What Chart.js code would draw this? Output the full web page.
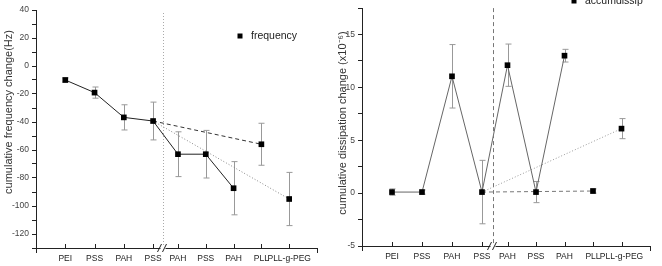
<!DOCTYPE html>
<html><head><meta charset="utf-8">
<script src="https://cdn.jsdelivr.net/npm/chart.js@4/dist/chart.umd.min.js"></script>
<style>
html,body{margin:0;padding:0;background:#fff;}
#wrap{position:relative;width:662px;height:266px;}
.c{position:absolute;top:0;width:331px;height:266px;}
</style></head><body>
<div id="wrap">
<div class="c" style="left:0"><canvas id="c1"></canvas></div>
<div class="c" style="left:331px"><canvas id="c2"></canvas></div>
</div>
<script>
// ---- data ----
const categories = ['PEI','PSS','PAH','PSS','PAH','PSS','PAH','PLL','PLL-g-PEG'];
const categoryX = [1, 2, 3, 4, 4.85, 5.8, 6.75, 7.7, 8.65];
const breakX = 4.35;
const freqValues = [-10, -19, -36.7, -39.3, -63, -63, -87.3, -55.9, -95];
const freqErrors = [1.5, 4, 9, 13.5, 16, 17, 19, 15, 19];
const dissipValues = [0.1, 0.1, 11.05, 0.1, 12.1, 0.1, 13.0, 0.2, 6.1];
const dissipErrors = [0.3, 0.2, 3, 3, 2, 1, 0.6, 0.2, 0.95];
const freqTickLabels = [-120, -100, -80, -60, -40, -20, 0, 20, 40];
const dissipTickLabels = [-5, 0, 5, 10, 15];
const mainIdx = [0, 1, 2, 3, 4, 5, 6];
const dashIdx = [3, 7];
const dotIdx = [3, 8];

const FONT = "'Liberation Sans', Arial, sans-serif";

function pts(values, idx) { return idx.map(i => ({x: categoryX[i], y: values[i]})); }

const errorBars = {
  id: 'errorBars',
  beforeDatasetsDraw(chart, args, o) {
    const {ctx, scales: {x, y}} = chart;
    ctx.save();
    ctx.strokeStyle = o.color; ctx.lineWidth = 1;
    o.values.forEach((v, i) => {
      const px = Math.round(x.getPixelForValue(categoryX[i])) + 0.5;
      const t = y.getPixelForValue(v + o.errors[i]);
      const b = y.getPixelForValue(v - o.errors[i]);
      ctx.beginPath();
      ctx.moveTo(px, t); ctx.lineTo(px, b);
      ctx.moveTo(px - 3, t); ctx.lineTo(px + 3, t);
      ctx.moveTo(px - 3, b); ctx.lineTo(px + 3, b);
      ctx.stroke();
    });
    ctx.restore();
  }
};

const decor = {
  id: 'decor',
  afterDraw(chart, args, o) {
    const {ctx, chartArea: a, scales: {x, y}} = chart;
    ctx.save();
    const bx = Math.round(x.getPixelForValue(breakX)) + 0.5;
    ctx.strokeStyle = o.vColor; ctx.lineWidth = 1; ctx.setLineDash(o.vDash);
    ctx.beginPath(); ctx.moveTo(bx, a.top + o.vTop); ctx.lineTo(bx, a.bottom); ctx.stroke();
    ctx.setLineDash([]);
    ctx.strokeStyle = '#222';
    ctx.beginPath();
    categoryX.forEach(v => {
      const px = Math.round(x.getPixelForValue(v)) + 0.5;
      ctx.moveTo(px, a.bottom); ctx.lineTo(px, a.bottom - 4);
    });
    const rx = Math.round(a.right) + 0.5;
    ctx.moveTo(rx, a.bottom); ctx.lineTo(rx, a.bottom + 5);
    const lx = Math.round(a.left) + 0.5;
    ctx.moveTo(lx, a.bottom); ctx.lineTo(lx, a.bottom + 5);
    ctx.stroke();
    ctx.fillStyle = '#fff';
    ctx.fillRect(bx - 3, a.bottom - 1.5, 5, 3);
    ctx.strokeStyle = '#222';
    ctx.beginPath();
    ctx.moveTo(bx - 6, a.bottom + 4); ctx.lineTo(bx - 2, a.bottom - 4);
    ctx.moveTo(bx - 1, a.bottom + 4); ctx.lineTo(bx + 3, a.bottom - 4);
    ctx.stroke();
    ctx.save();
    ctx.translate(o.titleX, o.titleY);
    ctx.rotate(-Math.PI / 2);
    ctx.fillStyle = '#333';
    ctx.font = '11px ' + FONT;
    ctx.textAlign = 'center'; ctx.textBaseline = 'middle';
    ctx.fillText(o.title, 0, 0);
    ctx.restore();
    ctx.fillStyle = '#000';
    ctx.fillRect(o.legX - 2.5, o.legY - 2.5, 5, 5);
    ctx.font = '10.5px ' + FONT;
    ctx.textAlign = 'left'; ctx.textBaseline = 'middle';
    ctx.fillStyle = '#222';
    ctx.fillText(o.legend, o.legX + 11, o.legY);
    ctx.restore();
  }
};

function makeChart(id, cfg) {
  return new Chart(document.getElementById(id), {
    type: 'line',
    data: {
      datasets: [
        {data: pts(cfg.values, mainIdx), borderColor: cfg.mainColor, borderWidth: 1,
         pointStyle: 'rect', pointRadius: 4, pointBackgroundColor: '#000', pointBorderColor: '#000', pointBorderWidth: 0, tension: 0, order: 1},
        {data: pts(cfg.values, dashIdx), borderColor: cfg.dashColor, borderWidth: 1, borderDash: [4, 3],
         pointStyle: 'rect', pointRadius: c => c.dataIndex === 0 ? 0 : 4, pointBackgroundColor: '#000', pointBorderWidth: 0, order: 2},
        {data: pts(cfg.values, dotIdx), borderColor: cfg.dotColor, borderWidth: 1, borderDash: [1, 2],
         pointStyle: 'rect', pointRadius: c => c.dataIndex === 0 ? 0 : 4, pointBackgroundColor: '#000', pointBorderWidth: 0, order: 3}
      ]
    },
    options: {
      responsive: true, maintainAspectRatio: false, animation: false,
      layout: {padding: {top: cfg.padTop, right: cfg.padRight, left: 0, bottom: 0}},
      plugins: {
        legend: {display: false}, tooltip: {enabled: false},
        errorBars: {values: cfg.values, errors: cfg.errors, color: '#999'},
        decor: cfg.decor
      },
      scales: {
        x: {
          type: 'linear', min: 0, max: 9.6,
          afterBuildTicks: s => { s.ticks = categoryX.map(v => ({value: v})); },
          afterFit: s => { s.height = cfg.xHeight; },
          ticks: {autoSkip: false, maxRotation: 0, padding: 6, color: '#222', font: {size: 8.5, family: FONT},
                  callback: (v, i) => categories[i]},
          grid: {display: false, drawTicks: false},
          border: {display: true, color: '#222', width: 1}
        },
        y: {
          min: cfg.yMin, max: cfg.yMax,
          afterBuildTicks: s => {
            const t = [];
            for (let v = cfg.yMin; v <= cfg.yMax + 1e-9; v += cfg.minorStep) t.push({value: Math.round(v * 100) / 100});
            s.ticks = t;
          },
          afterFit: s => { s.width = cfg.yWidth; },
          ticks: {autoSkip: false, padding: 3, color: '#444', font: {size: 8.5, family: FONT},
                  callback: v => cfg.tickLabels.includes(v) ? String(v) : ''},
          grid: {drawOnChartArea: false, tickLength: 4, color: '#222'},
          border: {display: true, color: '#222', width: 1}
        }
      }
    },
    plugins: [errorBars, decor]
  });
}

makeChart('c1', {
  values: freqValues, errors: freqErrors, tickLabels: freqTickLabels,
  yMin: -130, yMax: 40, minorStep: 10, yWidth: 36, xHeight: 18, padTop: 10, padRight: 14,
  mainColor: '#222', dashColor: '#333', dotColor: '#888',
  decor: {vColor: '#aaa', vDash: [1, 2], vTop: 3, title: 'cumulative frequency change(Hz)', titleX: 9, titleY: 112,
          legend: 'frequency', legX: 240, legY: 36}
});
makeChart('c2', {
  values: dissipValues, errors: dissipErrors, tickLabels: dissipTickLabels,
  yMin: -5, yMax: 17.5, minorStep: 2.5, yWidth: 31, xHeight: 20, padTop: 6, padRight: 12,
  mainColor: '#666', dashColor: '#777', dotColor: '#999',
  decor: {vColor: '#777', vDash: [4, 3], vTop: 0, title: 'cumulative dissipation change (x10\u207B\u2076)', titleX: 12, titleY: 123,
          legend: 'accumdissip', legX: 243, legY: 1}
});
</script>
</body></html>
